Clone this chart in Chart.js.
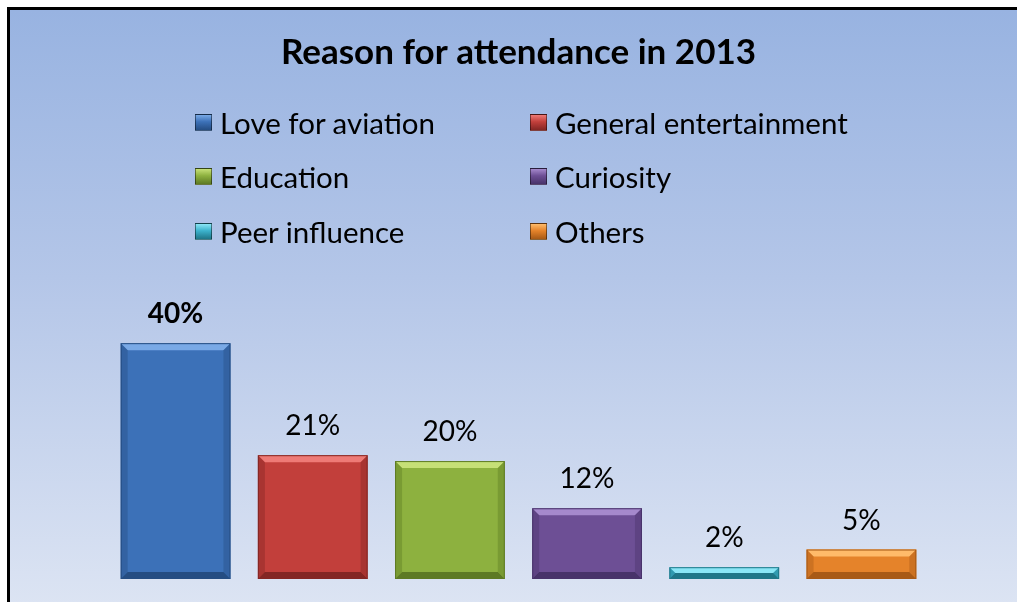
<!DOCTYPE html>
<html>
<head>
<meta charset="utf-8">
<script src="https://cdn.jsdelivr.net/npm/chart.js@4"></script>
<style>
  html, body { margin: 0; padding: 0; background: #fff; }
  body { width: 1017px; height: 602px; position: relative; overflow: hidden; font-family: Lato, "Open Sans", sans-serif; }
  #frame {
    position: absolute; left: 7px; top: 7px; width: 1010px; height: 595px;
    border-left: 3px solid #000; border-top: 3px solid #000;
    background: linear-gradient(to bottom, #98b3e1 0%, #b4c6e8 45%, #dce4f3 100%);
  }
  #wrap { position: absolute; left: 0; top: 0; width: 1017px; height: 602px; }
  .item { position: absolute; height: 30px; display: flex; align-items: center; font-size: 29.5px; color: #000; white-space: nowrap; }
  .box { width: 15px; height: 15px; margin-right: 8px; border: 1px solid rgba(0,0,0,0.45); }
</style>
</head>
<body>
<div id="frame"></div>
<div id="wrap"><canvas id="canvas" width="1017" height="602"></canvas></div>
<div id="legend"></div>
<script>
// categories and values (percent)
var categories = ["Love for aviation", "General entertainment", "Education", "Curiosity", "Peer influence", "Others"];
var values = [40, 21, 20, 12, 2, 5];
var colors = ["#3c71b8", "#c23f3b", "#8db13f", "#6d4f95", "#3cb2cc", "#e5832a"];
var lightColors = ["#79a9e6", "#ee7a76", "#c6e077", "#a589cc", "#8ae6f6", "#ffbb6a"];
var darkColors = ["#254d82", "#832624", "#5d7a24", "#48336a", "#1f7688", "#a85a16"];
var titleText = "Reason for attendance in 2013";

// html legend, two columns
var legendEl = document.getElementById("legend");
var colX = [195, 530];
var rowY = [122, 176, 231];
categories.forEach(function (name, i) {
    var d = document.createElement("div");
    d.className = "item";
    d.style.left = colX[i % 2] + "px";
    d.style.top = (rowY[Math.floor(i / 2)] - 15) + "px";
    var b = document.createElement("span");
    b.className = "box";
    b.style.background = "linear-gradient(to bottom, " + lightColors[i] + ", " + colors[i] + " 45%, " + darkColors[i] + ")";
    d.appendChild(b);
    d.appendChild(document.createTextNode(name));
    legendEl.appendChild(d);
});

// bevel + value labels
var bevelPlugin = {
    id: "bevel",
    afterDatasetsDraw: function (chart) {
        var ctx = chart.ctx;
        var meta = chart.getDatasetMeta(0);
        meta.data.forEach(function (bar, i) {
            var left = bar.x - bar.width / 2, right = bar.x + bar.width / 2;
            var top = bar.y, bottom = bar.base;
            var e = Math.min(7, (bottom - top) / 2);
            ctx.save();
            // top bevel
            ctx.fillStyle = lightColors[i];
            ctx.beginPath();
            ctx.moveTo(left, top); ctx.lineTo(right, top);
            ctx.lineTo(right - e, top + e); ctx.lineTo(left + e, top + e);
            ctx.closePath(); ctx.fill();
            // bottom bevel
            ctx.fillStyle = darkColors[i];
            ctx.beginPath();
            ctx.moveTo(left, bottom); ctx.lineTo(right, bottom);
            ctx.lineTo(right - e, bottom - e); ctx.lineTo(left + e, bottom - e);
            ctx.closePath(); ctx.fill();
            // sides
            ctx.globalAlpha = 0.4;
            ctx.fillStyle = darkColors[i];
            ctx.beginPath();
            ctx.moveTo(right, top); ctx.lineTo(right, bottom);
            ctx.lineTo(right - e, bottom - e); ctx.lineTo(right - e, top + e);
            ctx.closePath(); ctx.fill();
            ctx.beginPath();
            ctx.moveTo(left, top); ctx.lineTo(left, bottom);
            ctx.lineTo(left + e, bottom - e); ctx.lineTo(left + e, top + e);
            ctx.closePath(); ctx.fill();
            ctx.globalAlpha = 1;
            ctx.strokeStyle = darkColors[i];
            ctx.lineWidth = 1;
            ctx.strokeRect(left + 0.5, top + 0.5, bar.width - 1, bottom - top - 1);
            // label
            ctx.fillStyle = "#000";
            ctx.textAlign = "center";
            ctx.textBaseline = "middle";
            ctx.font = (i === 0 ? "bold " : "") + "28px Lato, 'Open Sans', sans-serif";
            ctx.fillText(values[i] + "%", bar.x, top - 29);
            ctx.restore();
        });
    }
};

window.onload = function () {
    var ctx = document.getElementById("canvas").getContext("2d");
    window.myBar = new Chart(ctx, {
        type: "bar",
        data: {
            labels: categories,
            datasets: [{
                data: values,
                backgroundColor: colors,
                borderWidth: 0,
                barPercentage: 0.8,
                categoryPercentage: 1
            }]
        },
        options: {
            responsive: false,
            animation: false,
            layout: { padding: { left: 107, right: 87, bottom: 23, top: 0 } },
            plugins: {
                legend: { display: false },
                tooltip: { enabled: false },
                title: {
                    display: true,
                    text: titleText,
                    color: "#000",
                    font: { family: "Lato, 'Open Sans', sans-serif", size: 35, weight: "bold" },
                    padding: { top: 32, bottom: 222 }
                }
            },
            scales: {
                x: { display: false },
                y: { display: false, min: 0, max: 48 }
            }
        },
        plugins: [bevelPlugin]
    });
};
</script>
</body>
</html>
